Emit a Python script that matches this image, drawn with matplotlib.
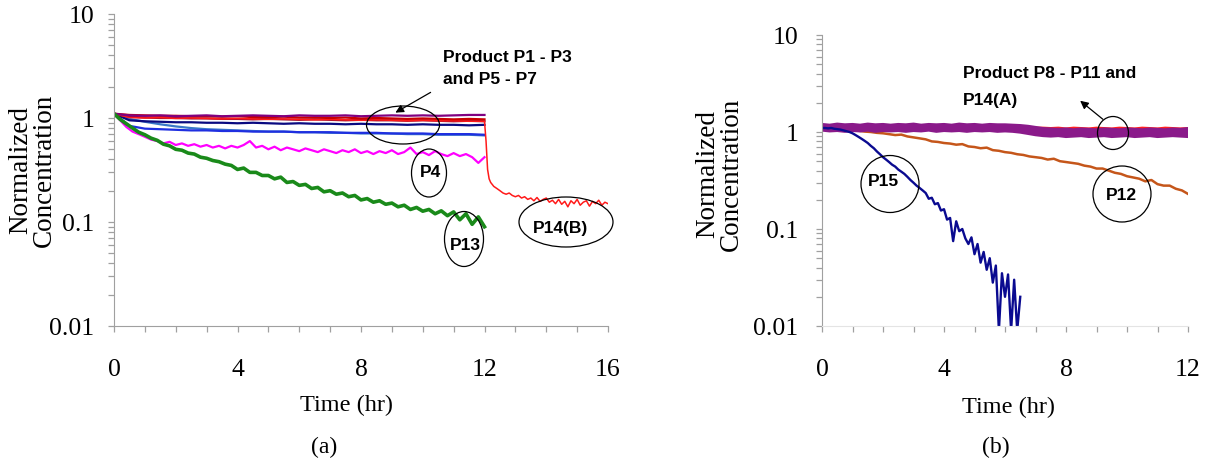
import numpy as np
import matplotlib
matplotlib.use("Agg")
import matplotlib.pyplot as plt
from matplotlib.patches import Ellipse
from matplotlib.ticker import LogLocator, NullFormatter, FixedLocator

plt.rcParams['font.family'] = ['Liberation Serif', 'DejaVu Serif']

# ---------------- data: panel (a) ----------------
# cluster products P1-P3, P5-P7 (0-12 h, step 0.5 h)
a_purple = [1.10,1.06,1.05,1.06,1.04,1.05,1.06,1.04,1.05,1.06,1.05,1.04,1.06,1.05,1.05,1.06,1.04,1.05,1.06,1.05,1.06,1.05,1.06,1.07,1.07]
a_darkred = [1.10,1.07,1.06,1.05,1.05,1.04,1.04,1.03,1.04,1.02,1.02,1.03,1.01,1.01,1.00,1.01,0.99,1.00,0.99,0.98,0.99,0.98,0.97,0.98,0.97]
a_maroon = [1.10,1.03,1.01,1.00,1.00,0.99,0.99,0.98,0.98,0.97,0.98,0.97,0.96,0.97,0.96,0.95,0.96,0.95,0.95,0.94,0.95,0.94,0.93,0.94,0.93]
a_navy = [1.10,0.95,0.93,0.92,0.91,0.91,0.90,0.90,0.89,0.90,0.89,0.88,0.89,0.88,0.88,0.87,0.88,0.87,0.87,0.86,0.87,0.86,0.86,0.85,0.86]
a_blue = [1.10,0.84,0.79,0.78,0.77,0.76,0.76,0.75,0.75,0.74,0.74,0.74,0.73,0.73,0.73,0.72,0.72,0.72,0.71,0.71,0.71,0.70,0.70,0.70,0.69]
a_steel = [1.10,0.98,0.92,0.87,0.83,0.80,0.78,0.77,0.76,0.75,0.74,0.74,0.73,0.73,0.72,0.72,0.71,0.71,0.71,0.70,0.70,0.69,0.69,0.69,0.68]
# P14(B): 0-12 h at 0.5 h, then the drop after 12 h
p14b_t = [0,0.5,1,1.5,2,2.5,3,3.5,4,4.5,5,5.5,6,6.5,7,7.5,8,8.5,9,9.5,10,10.5,11,11.5,12.0,
          12.05,12.1,12.15,12.2,12.3,12.4,12.5,12.6,12.7,12.8,12.9,13.0,13.1,13.2,13.3,13.4,13.5,
          13.6,13.7,13.8,13.9,14.0,14.1,14.2,14.3,14.4,14.5,14.6,14.7,14.8,14.9,15.0,15.1,15.2,
          15.3,15.4,15.5,15.6,15.7,15.8,15.9,16.0]
p14b_v = [1.10,1.01,1.00,1.01,0.99,1.00,0.99,0.98,0.99,0.98,0.97,0.98,0.97,0.96,0.97,0.96,0.95,0.96,0.95,0.94,0.95,0.94,0.94,0.93,0.93,
          0.60,0.32,0.26,0.24,0.22,0.21,0.20,0.19,0.185,0.19,0.18,0.175,0.18,0.17,0.175,0.165,0.17,
          0.16,0.172,0.158,0.165,0.17,0.155,0.162,0.15,0.165,0.148,0.158,0.14,0.16,0.15,0.165,0.145,0.155,
          0.16,0.142,0.158,0.15,0.162,0.145,0.155,0.15]
# P4 and P13 (0-12 h, step 0.2 h)
p4 = [1.10,0.95,0.82,0.74,0.70,0.66,0.62,0.60,0.57,0.59,0.55,0.57,0.54,0.56,0.53,0.55,0.52,0.54,0.51,0.54,
      0.52,0.55,0.60,0.52,0.54,0.50,0.53,0.49,0.52,0.50,0.48,0.51,0.49,0.47,0.50,0.48,0.46,0.49,0.47,0.50,
      0.46,0.48,0.45,0.48,0.46,0.49,0.45,0.47,0.52,0.45,0.47,0.44,0.48,0.45,0.43,0.46,0.43,0.45,0.42,0.37,0.42]
p13 = [1.10,0.97,0.88,0.80,0.73,0.69,0.64,0.61,0.56,0.54,0.50,0.49,0.46,0.45,0.42,0.41,0.39,0.38,0.36,0.35,
       0.32,0.33,0.30,0.30,0.28,0.28,0.26,0.27,0.24,0.245,0.225,0.23,0.21,0.215,0.195,0.20,0.185,0.19,0.175,0.18,
       0.163,0.168,0.155,0.16,0.148,0.152,0.14,0.145,0.132,0.138,0.127,0.132,0.12,0.128,0.115,0.125,0.105,0.12,0.095,0.112,0.09]

# ---------------- data: panel (b) ----------------
# P8-P11 and P14(A) band (0-12 h, step 0.25 h)
b_purple_a = [1.18,1.16,1.19,1.17,1.18,1.16,1.19,1.17,1.18,1.16,1.18,1.17,1.19,1.16,1.18,1.17,1.18,1.16,1.19,1.17,1.18,1.16,1.18,1.17,1.17,1.16,1.15,1.13,1.10,1.07,1.06,1.05,1.06,1.04,1.06,1.05,1.04,1.06,1.05,1.04,1.06,1.05,1.04,1.06,1.05,1.04,1.06,1.05,1.07]
b_purple_b = [1.10,1.08,1.11,1.09,1.10,1.08,1.11,1.09,1.10,1.08,1.10,1.09,1.11,1.08,1.10,1.09,1.10,1.08,1.11,1.09,1.10,1.08,1.10,1.09,1.09,1.08,1.07,1.05,1.02,0.99,0.98,0.97,0.98,0.96,0.98,0.97,0.96,0.98,0.97,0.96,0.98,0.97,0.96,0.98,0.97,0.96,0.98,0.97,0.99]
b_purple_c = [1.06,1.04,1.05,1.03,1.05,1.04,1.06,1.03,1.05,1.04,1.05,1.03,1.05,1.04,1.06,1.03,1.05,1.04,1.05,1.03,1.05,1.04,1.05,1.03,1.04,1.03,1.01,0.98,0.95,0.93,0.92,0.93,0.91,0.92,0.93,0.91,0.92,0.93,0.91,0.92,0.93,0.91,0.92,0.93,0.91,0.92,0.93,0.92,0.91]
b_red = [1.14,1.13,1.15,1.12,1.14,1.13,1.15,1.12,1.14,1.13,1.14,1.12,1.15,1.13,1.14,1.12,1.14,1.13,1.15,1.12,1.14,1.13,1.14,1.12,1.13,1.12,1.11,1.10,1.09,1.09,1.08,1.09,1.07,1.09,1.08,1.07,1.09,1.08,1.07,1.09,1.08,1.07,1.09,1.08,1.07,1.09,1.08,1.07,1.08]
# P12 (0-12 h, step 0.2 h)
p12 = [1.12,1.10,1.08,1.09,1.06,1.05,1.03,1.01,1.00,0.98,0.97,0.95,0.93,0.94,0.90,0.88,0.86,0.84,0.80,0.79,
       0.77,0.76,0.74,0.75,0.71,0.70,0.68,0.69,0.65,0.64,0.62,0.61,0.59,0.58,0.56,0.55,0.54,0.52,0.53,0.50,
       0.49,0.48,0.47,0.45,0.44,0.42,0.42,0.40,0.38,0.37,0.35,0.34,0.33,0.31,0.32,0.29,0.28,0.28,0.26,0.25,0.23]
# P15 (0-6.5 h, step 0.1 h)
p15 = [1.10,1.10,1.09,1.10,1.08,1.07,1.06,1.04,1.02,1.00,0.97,0.93,0.89,0.85,0.81,0.77,0.72,0.68,0.63,0.59,
       0.55,0.52,0.49,0.46,0.44,0.41,0.39,0.37,0.345,0.32,0.30,0.28,0.265,0.25,0.235,0.205,0.21,0.18,0.185,0.155,
       0.16,0.125,0.13,0.075,0.12,0.095,0.10,0.08,0.07,0.082,0.055,0.07,0.045,0.058,0.038,0.05,0.028,0.042,0.009,0.035,
       0.02,0.034,0.009,0.03,0.009,0.02]

W, H = 1211, 464
fig = plt.figure(figsize=(W / 100, H / 100), dpi=100)

def fx(px):
    return px / W

def fy(py):
    return 1 - py / H

ax1 = fig.add_axes([fx(114), fy(327), (608 - 114) / W, (327 - 15) / H])
ax2 = fig.add_axes([fx(822), fy(327), (1188 - 822) / W, (327 - 36) / H])

# ---- panel (a) lines ----
t05 = np.linspace(0, 12, len(a_purple))
t02 = np.linspace(0, 12, len(p4))
ax1.plot(t05, a_steel, color='#3a78c8', lw=1.6)
ax1.plot(t05, a_blue, color='#1f2fe0', lw=1.6)
ax1.plot(t05, a_navy, color='#0a0a80', lw=1.6)
ax1.plot(t05, a_maroon, color='#a01030', lw=1.6)
ax1.plot(p14b_t, p14b_v, color='#ff1a1a', lw=1.1)
ax1.plot(t05, a_darkred, color='#c80000', lw=1.6)
ax1.plot(t05, a_purple, color='#800080', lw=1.6)
ax1.plot(t02, p4, color='#ff00ff', lw=1.6)
ax1.plot(t02, p13, color='#1a8a1a', lw=2.6)

# ---- panel (b) lines ----
t025 = np.linspace(0, 12, len(b_red))
t12 = np.linspace(0, 12, len(p12))
t15 = np.linspace(0, 6.5, len(p15))
ax2.plot(t12, p12, color='#c5561a', lw=1.8)
ax2.plot(t025, b_red, color='#ff2020', lw=2.5)
ax2.plot(t025, b_purple_c, color='#8a1a8a', lw=3.0)
ax2.plot(t025, b_purple_b, color='#8a1a8a', lw=3.0)
ax2.plot(t025, b_purple_a, color='#8a1a8a', lw=3.0)
ax2.plot(t15, p15, color='#0a0a90', lw=1.7)

grey = '#a0a0a0'
for ax, xmax, major in ((ax1, 16, [0, 4, 8, 12, 16]), (ax2, 12, [0, 4, 8, 12])):
    ax.set_yscale('log')
    ax.set_ylim(0.01, 10)
    ax.set_xlim(0, xmax)
    ax.set_facecolor('none')
    for s in ('top', 'right'):
        ax.spines[s].set_visible(False)
    ax.spines['left'].set_color(grey)
    ax.spines['bottom'].set_color(grey)
    ax.set_xticks(major)
    ax.set_xticklabels([str(v) for v in major])
    ax.xaxis.set_minor_locator(FixedLocator(list(range(0, xmax + 1))))
    ax.set_yticks([0.01, 0.1, 1, 10])
    ax.set_yticklabels(['0.01', '0.1', '1', '10'])
    ax.yaxis.set_minor_locator(LogLocator(base=10, subs=np.arange(2, 10), numticks=20))
    ax.yaxis.set_minor_formatter(NullFormatter())
    ax.tick_params(axis='both', which='both', direction='out', color=grey, length=4, width=0.9)
    ax.tick_params(axis='x', which='major', labelsize=18.5, pad=19)
    ax.tick_params(axis='y', which='major', labelsize=18.5, pad=10)
ax2.spines['bottom'].set_color('#e4e4e4')
ax2.tick_params(axis='y', which='major', pad=13)

# ---- axis titles ----
fig.text(fx(33), fy(170), 'Normalized\nConcentration', rotation=90, ha='center', va='center',
         fontsize=19.5, linespacing=0.92)
fig.text(fx(720), fy(174), 'Normalized\nConcentration', rotation=90, ha='center', va='center',
         fontsize=19.5, linespacing=0.92)
fig.text(fx(346), fy(405), 'Time (hr)', ha='center', va='center', fontsize=17.5)
fig.text(fx(1008), fy(407), 'Time (hr)', ha='center', va='center', fontsize=17.5)
fig.text(fx(324), fy(447), '(a)', ha='center', va='center', fontsize=17)
fig.text(fx(996), fy(447), '(b)', ha='center', va='center', fontsize=17)

# ---- annotations ----
afont = dict(family=['Liberation Sans Narrow', 'Liberation Sans', 'DejaVu Sans'], weight='bold', fontsize=12.5)

def ell(cx, cy, w, h):
    fig.add_artist(Ellipse((fx(cx), fy(cy)), w / W, h / H, transform=fig.transFigure,
                           fill=False, edgecolor='black', lw=0.9))

fig.text(fx(443), fy(57), 'Product P1 - P3', ha='left', va='center', **afont)
fig.text(fx(443), fy(80), 'and P5 - P7', ha='left', va='center', **afont)
ell(403, 126, 73, 38)
ax1.annotate('', xy=(fx(393), fy(115)), xycoords='figure fraction',
             xytext=(fx(433), fy(92)), textcoords='figure fraction',
             arrowprops=dict(arrowstyle='-|>', color='black', lw=0.9, mutation_scale=12))
ell(429, 174, 35, 48)
fig.text(fx(431), fy(173), 'P4', ha='center', va='center', **afont)
ell(464, 240, 39, 55)
fig.text(fx(465), fy(246), 'P13', ha='center', va='center', **afont)
ell(566, 223, 94, 50)
fig.text(fx(561), fy(228), 'P14(B)', ha='center', va='center', **afont)

fig.text(fx(963), fy(74), 'Product P8 - P11 and', ha='left', va='center', **afont)
fig.text(fx(963), fy(101), 'P14(A)', ha='left', va='center', **afont)
ell(1113, 134, 31, 33)
ax2.annotate('', xy=(fx(1078), fy(100)), xycoords='figure fraction',
             xytext=(fx(1105), fy(122)), textcoords='figure fraction',
             arrowprops=dict(arrowstyle='-|>', color='black', lw=0.9, mutation_scale=12))
ell(890, 185, 58, 57)
fig.text(fx(883), fy(182), 'P15', ha='center', va='center', **afont)
ell(1122, 195, 58, 56)
fig.text(fx(1121), fy(196), 'P12', ha='center', va='center', **afont)

fig.savefig('out.png', dpi=100)
